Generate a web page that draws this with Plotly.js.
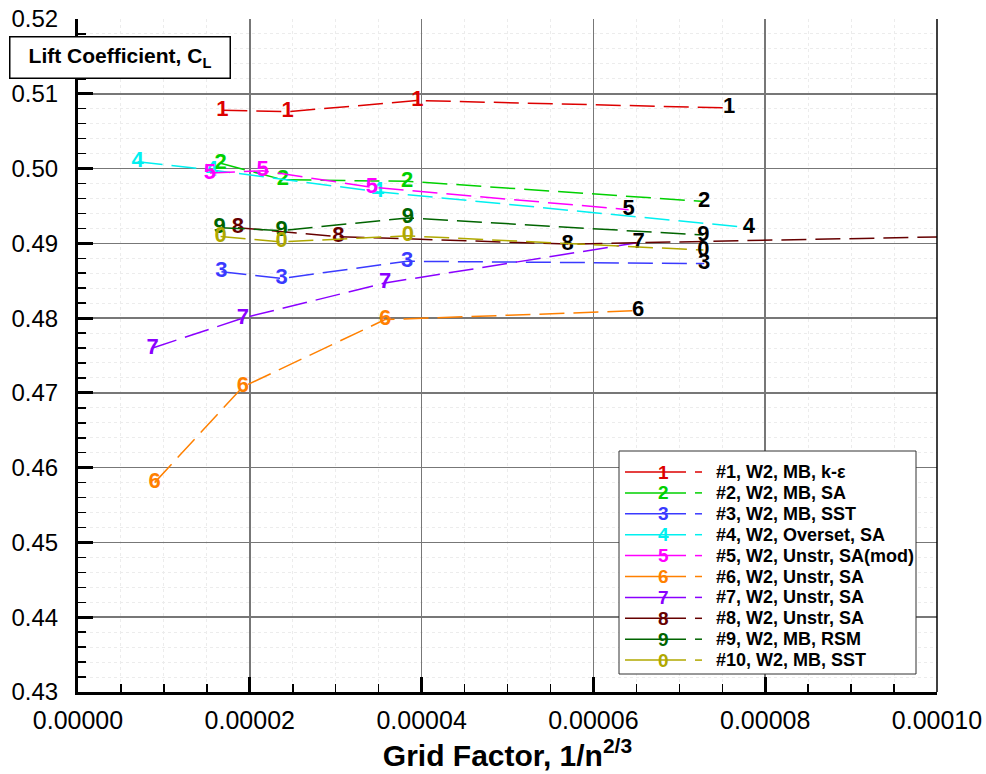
<!DOCTYPE html>
<html><head><meta charset="utf-8">
<script src="https://cdn.plot.ly/plotly-3.0.1.min.js"></script>
<style>html,body{margin:0;padding:0;background:#fff;} #chart{width:986px;height:774px;}</style>
</head><body><div id="chart"></div>
<script>
// ---- data ----
const seriesNames = ["#1, W2, MB, k-\u03b5", "#2, W2, MB, SA", "#3, W2, MB, SST", "#4, W2, Overset, SA",
  "#5, W2, Unstr, SA(mod)", "#6, W2, Unstr, SA", "#7, W2, Unstr, SA", "#8, W2, Unstr, SA",
  "#9, W2, MB, RSM", "#10, W2, MB, SST"];
const symbols = ["1","2","3","4","5","6","7","8","9","0"];
const colors = ["#dd0000","#00d000","#3a3aff","#00f0f0","#ff00ff","#ff8000","#8a00ff","#660000","#006400","#b0a800"];

const x1 = [1.68e-5, 2.44e-5, 3.95e-5, 7.58e-5];
const y1 = [0.5078, 0.5076, 0.5091, 0.5081];
const x2 = [1.66e-5, 2.385e-5, 3.83e-5, 7.29e-5];
const y2 = [0.5007, 0.4985, 0.4983, 0.4956];
const x3 = [1.67e-5, 2.37e-5, 3.83e-5, 7.29e-5];
const y3 = [0.4862, 0.4853, 0.4876, 0.4873];
const x4 = [6.95e-6, 1.557e-5, 3.49e-5, 7.81e-5];
const y4 = [0.5009, 0.4998, 0.4969, 0.4921];
const x5 = [1.536e-5, 2.15e-5, 3.42e-5, 6.41e-5];
const y5 = [0.4994, 0.4997, 0.4975, 0.4945];
const x6 = [8.92e-6, 1.918e-5, 3.574e-5, 6.52e-5];
const y6 = [0.4580, 0.4708, 0.4798, 0.4810];
const x7 = [8.69e-6, 1.918e-5, 3.574e-5, 6.525e-5];
const y7 = [0.4760, 0.4800, 0.4847, 0.4901];
const x8 = [1.862e-5, 3.03e-5, 5.70e-5, 1.2e-4];
const y8 = [0.4921, 0.4909, 0.4899, 0.4913];
const x9 = [1.65e-5, 2.37e-5, 3.84e-5, 7.28e-5];
const y9 = [0.4921, 0.4917, 0.4934, 0.4911];
const x10 = [1.66e-5, 2.37e-5, 3.84e-5, 7.28e-5];
const y10 = [0.4909, 0.4902, 0.4910, 0.4891];
// index of the coarse-grid point drawn with a black symbol
const blackIndex = [3, 3, 3, 3, 3, 3, 3, 2, 3, 3];

const xTickVals = [0, 0.00002, 0.00004, 0.00006, 0.00008, 0.0001];
const xTickText = ["0.00000", "0.00002", "0.00004", "0.00006", "0.00008", "0.00010"];
const yTickVals = [0.43, 0.44, 0.45, 0.46, 0.47, 0.48, 0.49, 0.50, 0.51, 0.52];
const yTickText = ["0.43", "0.44", "0.45", "0.46", "0.47", "0.48", "0.49", "0.50", "0.51", "0.52"];

const xs = [x1, x2, x3, x4, x5, x6, x7, x8, x9, x10];
const ys = [y1, y2, y3, y4, y5, y6, y7, y8, y9, y10];

const FONT = "Liberation Sans, Arial, Helvetica, sans-serif";

const traces = xs.map((x, i) => {
  const txt = x.map((v, k) => (k <= blackIndex[i] ? symbols[i] : " "));
  const tcol = x.map((v, k) => (k === blackIndex[i] ? "#000000" : colors[i]));
  return {
    type: "scatter", mode: "lines+text", x: x, y: ys[i], name: seriesNames[i],
    text: txt, textposition: "middle center",
    textfont: {family: FONT, size: 22, color: tcol, weight: "bold"},
    line: {color: colors[i], width: 1.5, dash: "25px,9px"},
    hoverinfo: "skip", showlegend: false, cliponaxis: true
  };
});

// pixel -> paper helpers for the hand-drawn legend box
const M = {l: 78, r: 49, t: 19, b: 82};
const PW = 986 - M.l - M.r, PH = 774 - M.t - M.b;
const px = v => (v - M.l) / PW;
const py = v => (774 - M.b - v) / PH;

const shapes = [
  {type: "line", xref: "paper", yref: "paper", x0: 1, x1: 1, y0: 0, y1: 1, line: {color: "#000", width: 1.5}, layer: "above"},
  {type: "rect", xref: "paper", yref: "paper", x0: px(619), x1: px(916), y0: py(674), y1: py(451),
   fillcolor: "#ffffff", line: {color: "#333", width: 1}, layer: "above"}
];
const annotations = [
  {xref: "paper", yref: "paper", x: px(119.5), y: py(57), xanchor: "center", yanchor: "middle",
   text: "Lift Coefficient, C<sub>L</sub>", showarrow: false, width: 219, height: 40,
   bgcolor: "#ffffff", bordercolor: "#000", borderwidth: 1.5, borderpad: 0,
   font: {family: FONT, size: 21, color: "#000", weight: "bold"}}
];
seriesNames.forEach((nm, i) => {
  const yy = 472 + i * 20.9;
  shapes.push({type: "line", xref: "paper", yref: "paper", x0: px(625), x1: px(686), y0: py(yy), y1: py(yy),
    line: {color: colors[i], width: 1.5}, layer: "above"});
  shapes.push({type: "line", xref: "paper", yref: "paper", x0: px(695), x1: px(702), y0: py(yy), y1: py(yy),
    line: {color: colors[i], width: 1.5}, layer: "above"});
  annotations.push({xref: "paper", yref: "paper", x: px(663), y: py(yy), xanchor: "center", yanchor: "middle",
    text: symbols[i], showarrow: false, font: {family: FONT, size: 19, color: colors[i], weight: "bold"}});
  annotations.push({xref: "paper", yref: "paper", x: px(714), y: py(yy), xanchor: "left", yanchor: "middle",
    text: nm, showarrow: false, font: {family: FONT, size: 18, color: "#000", weight: "bold"}});
});

const layout = {
  width: 986, height: 774, margin: M, paper_bgcolor: "#fff", plot_bgcolor: "#fff",
  showlegend: false, hovermode: false,
  xaxis: {
    range: [0, 0.0001], tickmode: "array", tickvals: xTickVals, ticktext: xTickText,
    showgrid: true, gridcolor: "#777777", gridwidth: 1.5, zeroline: false,
    showline: true, linecolor: "#000", linewidth: 3,
    ticks: "inside", ticklen: 15, tickwidth: 3, tickcolor: "#000", ticklabelstandoff: 4,
    tickfont: {family: FONT, size: 25, color: "#000"},
    minor: {dtick: 0.000005, tick0: 0, ticks: "inside", ticklen: 8, tickwidth: 1.5, tickcolor: "#000",
            showgrid: true, gridcolor: "#ececec", griddash: "dot", gridwidth: 1}
    ,
    title: {text: "Grid Factor, 1/n<sup>2/3</sup>", standoff: 6,
            font: {family: FONT, size: 30, color: "#000", weight: "bold"}}
  },
  yaxis: {
    range: [0.43, 0.52], tickmode: "array", tickvals: yTickVals, ticktext: yTickText,
    showgrid: true, gridcolor: "#777777", gridwidth: 1.5, zeroline: false,
    showline: true, linecolor: "#000", linewidth: 3,
    ticks: "inside", ticklen: 15, tickwidth: 3, tickcolor: "#000", ticklabelstandoff: 12,
    tickfont: {family: FONT, size: 24, color: "#000"},
    minor: {dtick: 0.002, tick0: 0.43, ticks: "inside", ticklen: 8, tickwidth: 1.5, tickcolor: "#000",
            showgrid: true, gridcolor: "#ececec", griddash: "dot", gridwidth: 1}
  },
  shapes: shapes, annotations: annotations
};

Plotly.newPlot("chart", traces, layout, {staticPlot: true, displayModeBar: false});
</script></body></html>
